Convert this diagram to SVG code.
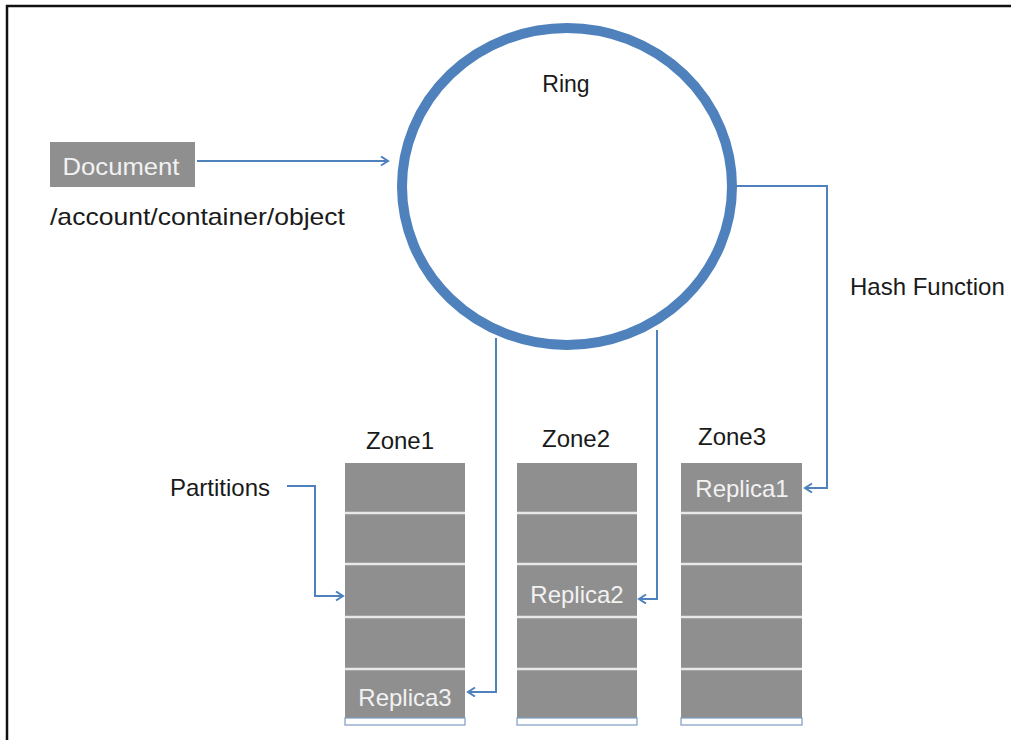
<svg xmlns="http://www.w3.org/2000/svg" width="1011" height="740" viewBox="0 0 1011 740">
<style>
.lbl{font-family:"Liberation Sans",Arial,sans-serif;font-size:24px;fill:#1a1a1a}
.wl{font-family:"Liberation Sans",Arial,sans-serif;font-size:24px;fill:#f2f2f2}
.conn{fill:none;stroke:#4f81bd;stroke-width:2}
.cell{fill:#8f8f8f}
.sep{stroke:#e8e8e8;stroke-width:2.5}
.foot{fill:#ffffff;stroke:#7d9cc4;stroke-width:1.2}
</style>
<defs>
<marker id="ah" markerWidth="10" markerHeight="12" refX="8" refY="5" orient="auto" markerUnits="userSpaceOnUse">
<path d="M1,0.5 L8,5 L1,9.5" fill="none" stroke="#4f81bd" stroke-width="2"/>
</marker>
</defs>
<rect width="1011" height="740" fill="#ffffff"/>
<g id="frame">
<path d="M7,740 L7,6 L1011,6" fill="none" stroke="#111" stroke-width="2.5"/>
</g>
<g id="ring">
<ellipse cx="567" cy="186.5" rx="165" ry="158.5" fill="none" stroke="#4f81bd" stroke-width="10"/>
<text class="lbl" x="566" y="92" text-anchor="middle" style="font-size:23px">Ring</text>
</g>
<g id="document">
<rect x="50" y="142" width="145" height="45" class="cell"/>
<text class="wl" x="121" y="175" text-anchor="middle" textLength="117" lengthAdjust="spacingAndGlyphs">Document</text>
<text class="lbl" x="50" y="225" textLength="295" lengthAdjust="spacingAndGlyphs">/account/container/object</text>
</g>
<g id="hash-label">
<text class="lbl" x="850" y="295">Hash Function</text>
</g>
<g id="partitions-label">
<text class="lbl" x="170" y="496">Partitions</text>
</g>
<g id="zone1">
<text class="lbl" x="400" y="449" text-anchor="middle">Zone1</text>
<rect x="345" y="463" width="120" height="255" class="cell"/>
<line x1="345" y1="513" x2="465" y2="513" class="sep"/>
<line x1="345" y1="564" x2="465" y2="564" class="sep"/>
<line x1="345" y1="617" x2="465" y2="617" class="sep"/>
<line x1="345" y1="669" x2="465" y2="669" class="sep"/>
<rect x="345" y="718" width="120" height="7" class="foot"/>
<text class="wl" x="405" y="706" text-anchor="middle">Replica3</text>
</g>
<g id="zone2">
<text class="lbl" x="576" y="447" text-anchor="middle">Zone2</text>
<rect x="517" y="463" width="120" height="255" class="cell"/>
<line x1="517" y1="513" x2="637" y2="513" class="sep"/>
<line x1="517" y1="564" x2="637" y2="564" class="sep"/>
<line x1="517" y1="617" x2="637" y2="617" class="sep"/>
<line x1="517" y1="669" x2="637" y2="669" class="sep"/>
<rect x="517" y="718" width="120" height="7" class="foot"/>
<text class="wl" x="577" y="603" text-anchor="middle">Replica2</text>
</g>
<g id="zone3">
<text class="lbl" x="732" y="445" text-anchor="middle">Zone3</text>
<rect x="681" y="463" width="121" height="255" class="cell"/>
<line x1="681" y1="513" x2="802" y2="513" class="sep"/>
<line x1="681" y1="564" x2="802" y2="564" class="sep"/>
<line x1="681" y1="617" x2="802" y2="617" class="sep"/>
<line x1="681" y1="669" x2="802" y2="669" class="sep"/>
<rect x="681" y="718" width="121" height="7" class="foot"/>
<text class="wl" x="742" y="497" text-anchor="middle">Replica1</text>
</g>
<g id="connectors">
<path class="conn" d="M197,161 L388,161" marker-end="url(#ah)"/>
<path class="conn" d="M735,186 L827,186 L827,488 L805,488" marker-end="url(#ah)"/>
<path class="conn" d="M496,338 L496,692 L468,692" marker-end="url(#ah)"/>
<path class="conn" d="M657,330 L657,599 L639,599" marker-end="url(#ah)"/>
<path class="conn" d="M287,486 L315,486 L315,596 L343,596" marker-end="url(#ah)"/>
</g>
</svg>
